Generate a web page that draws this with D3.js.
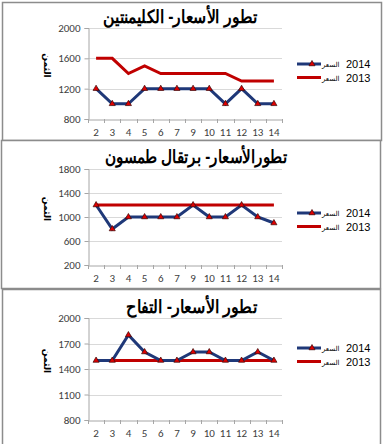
<!DOCTYPE html>
<html>
<head>
<meta charset="utf-8">
<script src="https://cdn.jsdelivr.net/npm/d3@7"></script>
<style>
  body { margin: 0; background: #fff; }
  svg { display: block; }
  .tick text { font-family: Calibri, Carlito, "Liberation Sans", Arial, sans-serif; fill: #404040; }
</style>
</head>
<body>
<svg id="chart" width="383" height="444"></svg>
<script>
// categories shared by the three charts
var days = ['2', '3', '4', '5', '6', '7', '9', '10', '11', '12', '13', '14'];

// clementine
var clemTitle = 'تطور الأسعار- الكليمنتين';
var clem2014 = [1200, 1000, 1000, 1200, 1200, 1200, 1200, 1200, 1000, 1200, 1000, 1000];
var clem2013 = [1600, 1600, 1400, 1500, 1400, 1400, 1400, 1400, 1400, 1300, 1300, 1300];
var clemTicks = [800, 1200, 1600, 2000];

// thomson orange
var orangeTitle = 'تطورالأسعار- برتقال طمسون';
var orange2014 = [1200, 800, 1000, 1000, 1000, 1000, 1200, 1000, 1000, 1200, 1000, 900];
var orange2013 = [1200, 1200, 1200, 1200, 1200, 1200, 1200, 1200, 1200, 1200, 1200, 1200];
var orangeTicks = [200, 600, 1000, 1400, 1800];

// apple
var appleTitle = 'تطور الأسعار- التفاح';
var apple2014 = [1500, 1500, 1800, 1600, 1500, 1500, 1600, 1600, 1500, 1500, 1600, 1500];
var apple2013 = [1500, 1500, 1500, 1500, 1500, 1500, 1500, 1500, 1500, 1500, 1500, 1500];
var appleTicks = [800, 1100, 1400, 1700, 2000];

var seriesNames = ['2014', '2013'];
var seriesWord = 'السعر';
var yLabel = 'الثمن';

var svg = d3.select('#chart');

var panels = [
  { title: clemTitle, s14: clem2014, s13: clem2013, ticks: clemTicks,
    box: [2, 2, 379, 138], top: 28, bottom: 119, titleX: [103, 257], titleY: 23, legY: 64 },
  { title: orangeTitle, s14: orange2014, s13: orange2013, ticks: orangeTicks,
    box: [1, 140, 379, 148], top: 169, bottom: 265, titleX: [105, 287], titleY: 163, legY: 213 },
  { title: appleTitle, s14: apple2014, s13: apple2013, ticks: appleTicks,
    box: [2, 289, 378, 160], top: 318, bottom: 420, titleX: [126, 257], titleY: 313, legY: 348 }
];

panels.forEach(function (p) {
  var g = svg.append('g');

  g.append('rect')
    .attr('x', p.box[0] + 0.5).attr('y', p.box[1] + 0.5)
    .attr('width', p.box[2]).attr('height', p.box[3])
    .attr('fill', '#fff').attr('stroke', '#8c8c8c').attr('stroke-width', 1.5);

  var x = d3.scaleBand().domain(days).range([88, 282]);
  var y = d3.scaleLinear()
    .domain(d3.extent(p.ticks))
    .range([p.bottom, p.top]);

  // gridlines
  g.append('g').selectAll('line')
    .data(p.ticks.slice(1))
    .join('line')
    .attr('x1', 88).attr('x2', 282)
    .attr('y1', function (d) { return Math.round(y(d)) + 0.5; })
    .attr('y2', function (d) { return Math.round(y(d)) + 0.5; })
    .attr('stroke', '#d9d9d9');

  // y axis
  var ya = g.append('g')
    .attr('transform', 'translate(88.5,0)')
    .call(d3.axisLeft(y).tickValues(p.ticks).tickFormat(d3.format('d')).tickSize(4).tickPadding(4));
  ya.selectAll('.domain, line').attr('stroke', '#a6a6a6');
  ya.selectAll('text').attr('font-size', 11);

  // x axis with ticks between categories
  var xa = g.append('g')
    .attr('transform', 'translate(0,' + (Math.round(p.bottom) + 0.5) + ')')
    .call(d3.axisBottom(x).tickSize(0).tickPadding(9));
  xa.select('.domain').attr('stroke', '#a6a6a6');
  xa.selectAll('text').attr('font-size', 11);
  g.append('g').selectAll('line')
    .data(days.concat(['end']))
    .join('line')
    .attr('x1', function (d, i) { return Math.round(88 + i * x.bandwidth()) + 0.5; })
    .attr('x2', function (d, i) { return Math.round(88 + i * x.bandwidth()) + 0.5; })
    .attr('y1', p.bottom).attr('y2', p.bottom + 4)
    .attr('stroke', '#a6a6a6');

  // y label
  g.append('text')
    .attr('transform', 'translate(44,' + ((p.top + p.bottom) / 2 - 8) + ') rotate(90)')
    .attr('text-anchor', 'middle')
    .attr('font-family', '"DejaVu Sans", sans-serif')
    .attr('font-size', 9)
    .attr('font-weight', 'bold')
    .attr('fill', '#000')
    .text(yLabel);

  // title, stretched to the width it has in the original
  g.append('text')
    .attr('x', p.titleX[0]).attr('y', p.titleY)
    .attr('font-family', '"Liberation Sans", Arial, sans-serif')
    .attr('font-size', 18)
    .attr('font-weight', 'bold')
    .attr('fill', '#000')
    .attr('textLength', p.titleX[1] - p.titleX[0])
    .attr('lengthAdjust', 'spacingAndGlyphs')
    .text(p.title);

  var line = d3.line()
    .x(function (d, i) { return x(days[i]) + x.bandwidth() / 2; })
    .y(function (d) { return y(d); });

  g.append('path').datum(p.s13)
    .attr('d', line).attr('fill', 'none')
    .attr('stroke', '#c00000').attr('stroke-width', 3);

  g.append('path').datum(p.s14)
    .attr('d', line).attr('fill', 'none')
    .attr('stroke', '#1f3878').attr('stroke-width', 3)
    .attr('stroke-linejoin', 'miter');

  var tri = d3.symbol().type(d3.symbolTriangle).size(16);
  g.append('g').selectAll('path')
    .data(p.s14)
    .join('path')
    .attr('transform', function (d, i) {
      return 'translate(' + (x(days[i]) + x.bandwidth() / 2) + ',' + y(d) + ')';
    })
    .attr('d', tri)
    .attr('fill', '#e00000')
    .attr('stroke', '#3a0a0a').attr('stroke-width', 0.7);

  // legend
  var leg = g.append('g').attr('transform', 'translate(297,' + p.legY + ')');
  seriesNames.forEach(function (name, i) {
    var row = leg.append('g').attr('transform', 'translate(0,' + (i * 13.5) + ')');
    row.append('line')
      .attr('x1', 0).attr('x2', 24).attr('y1', 0).attr('y2', 0)
      .attr('stroke', i === 0 ? '#1f3878' : '#c00000')
      .attr('stroke-width', 3);
    if (i === 0) {
      row.append('path').attr('transform', 'translate(15,0)')
        .attr('d', tri).attr('fill', '#e00000')
        .attr('stroke', '#3a0a0a').attr('stroke-width', 0.7);
    }
    row.append('text')
      .attr('x', 25).attr('y', 3)
      .attr('font-family', '"DejaVu Sans", sans-serif')
      .attr('font-size', 7)
      .attr('fill', '#000')
      .text(seriesWord);
    row.append('text')
      .attr('x', 49).attr('y', 4)
      .attr('font-family', '"Liberation Sans", Arial, sans-serif')
      .attr('font-size', 11)
      .attr('fill', '#000')
      .text(name);
  });
});
</script>
</body>
</html>
